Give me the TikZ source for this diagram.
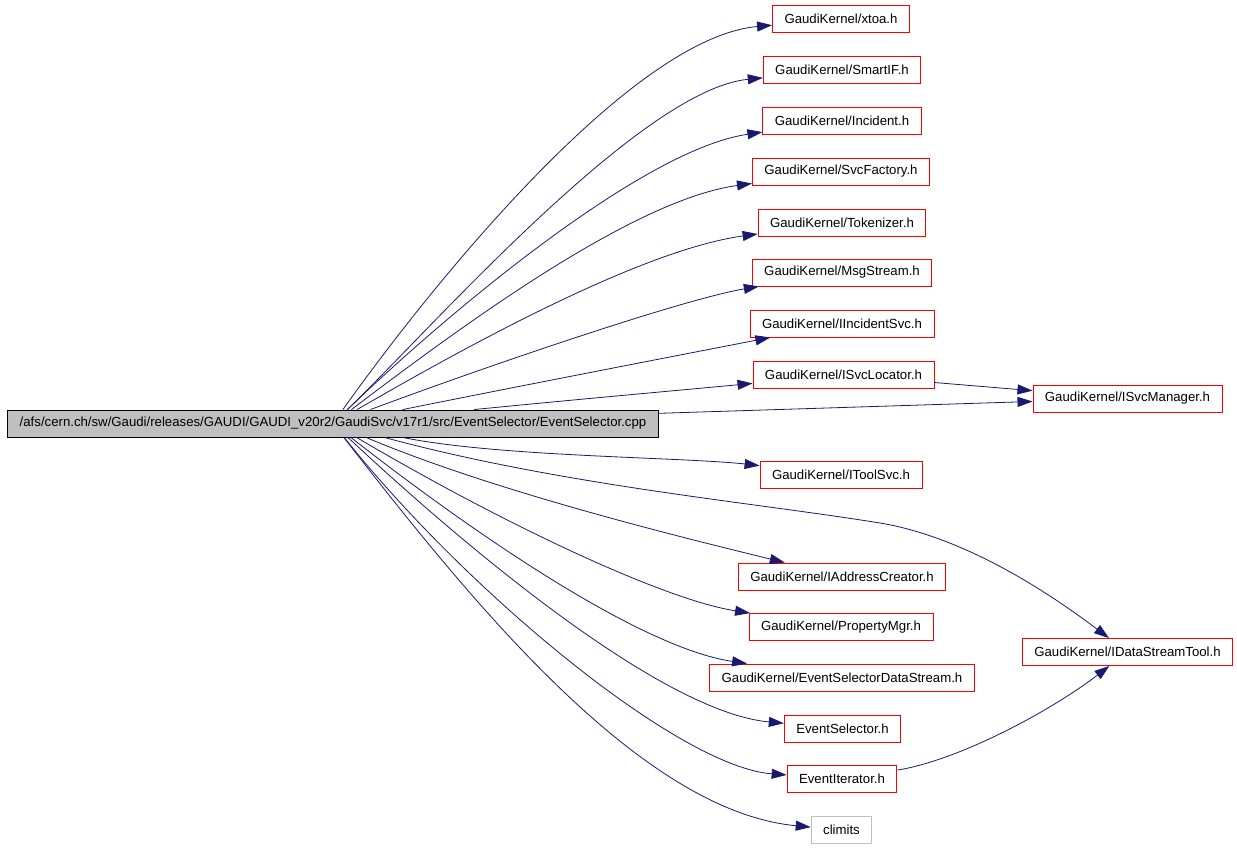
\documentclass[tikz,border=0pt]{standalone}
\usepackage{fontspec}
\setmainfont{Liberation Sans}
\usepackage{tikz}
\usetikzlibrary{arrows.meta}

\definecolor{edgeblue}{RGB}{25,25,112}
\definecolor{srcgray}{RGB}{191,191,191}

\tikzset{
	hdr/.style={draw=red, line width=0.9pt, inner xsep=12pt, inner ysep=0pt, minimum height=27pt, font=\fontsize{13.2}{15}\selectfont},
	sysh/.style={hdr, draw=srcgray},
	src/.style={hdr, draw=black, fill=srcgray, inner xsep=12.5pt},
	dep/.style={edgeblue, line width=0.8pt, -{Triangle[length=15pt,width=10pt]}}
}

\begin{document}
\begin{tikzpicture}[x=1pt, y=-1pt]
			\useasboundingbox (0,0) rectangle (1237,848);
			
			\node[src] (main) at (333,423.5){/afs/cern.ch/sw/Gaudi/releases/GAUDI/GAUDI\_v20r2/GaudiSvc/v17r1/src/EventSelector/EventSelector.cpp};
			
			\node[hdr] (xtoa) at (841,19){GaudiKernel/xtoa.h};
			\node[hdr] (smartif) at (842,70){GaudiKernel/SmartIF.h};
			\node[hdr] (incident) at (842,120.5){GaudiKernel/Incident.h};
			\node[hdr] (svcfactory) at (841,171.5){GaudiKernel/SvcFactory.h};
			\node[hdr] (tokenizer) at (842,222.5){GaudiKernel/Tokenizer.h};
			\node[hdr] (msgstream) at (842,272.5){GaudiKernel/MsgStream.h};
			\node[hdr] (iincsvc) at (842,323.5){GaudiKernel/IIncidentSvc.h};
			\node[hdr] (isvcloc) at (843.5,375){GaudiKernel/ISvcLocator.h};
			\node[hdr] (isvcmgr) at (1127.5,398.5){GaudiKernel/ISvcManager.h};
			\node[hdr] (itoolsvc) at (841,474.5){GaudiKernel/IToolSvc.h};
			\node[hdr] (iaddr) at (842,576.5){GaudiKernel/IAddressCreator.h};
			\node[hdr] (propmgr) at (841,627){GaudiKernel/PropertyMgr.h};
			\node[hdr] (esds) at (842,677.5){GaudiKernel/EventSelectorDataStream.h};
			\node[hdr] (evsel) at (842.5,728.5){EventSelector.h};
			\node[hdr] (eviter) at (842,779){EventIterator.h};
			\node[sysh] (climits) at (841.5,830){climits};
			\node[hdr] (idst) at (1127.5,652){GaudiKernel/IDataStreamTool.h};
			
			\draw[dep] (main) .. controls (430,287) and (630,38) .. (xtoa);
			\draw[dep] (main) .. controls (430,330) and (640,90) .. (smartif);
			\draw[dep] (main) .. controls (440,320) and (640,150) .. (incident);
			\draw[dep] (main) .. controls (450,335) and (630,200) .. (svcfactory);
			\draw[dep] (main) .. controls (460,350) and (640,250) .. (tokenizer);
			\draw[dep] (main) .. controls (490,365) and (684,299) .. (msgstream);
			\draw[dep] (main) .. controls (530,384) and (670,357) .. (iincsvc);
			\draw[dep] (main) .. controls (571,400) and (660,392) .. (isvcloc);
			\draw[dep] (main) -- (isvcmgr);
			\draw[dep] (isvcloc) -- (isvcmgr);
			
			\draw[dep] (main) .. controls (500,457) and (681,457) .. (itoolsvc);
			\draw[dep] (main) .. controls (560,485) and (750,502) .. (880,523) .. controls (970,538) and (1057,599) .. (idst);
			\draw[dep] (main) .. controls (493,491) and (680,537) .. (iaddr);
			\draw[dep] (main) .. controls (505,525) and (665,600) .. (propmgr);
			\draw[dep] (main) .. controls (495,550) and (648,649) .. (esds);
			\draw[dep] (main) .. controls (490,570) and (670,713) .. (evsel);
			\draw[dep] (main) .. controls (470,595) and (680,767) .. (eviter);
			\draw[dep] (main) .. controls (470,600) and (640,811) .. (climits);
			\draw[dep] (eviter) .. controls (960,760) and (1052,710) .. (idst);
		\end{tikzpicture}
\end{document}
